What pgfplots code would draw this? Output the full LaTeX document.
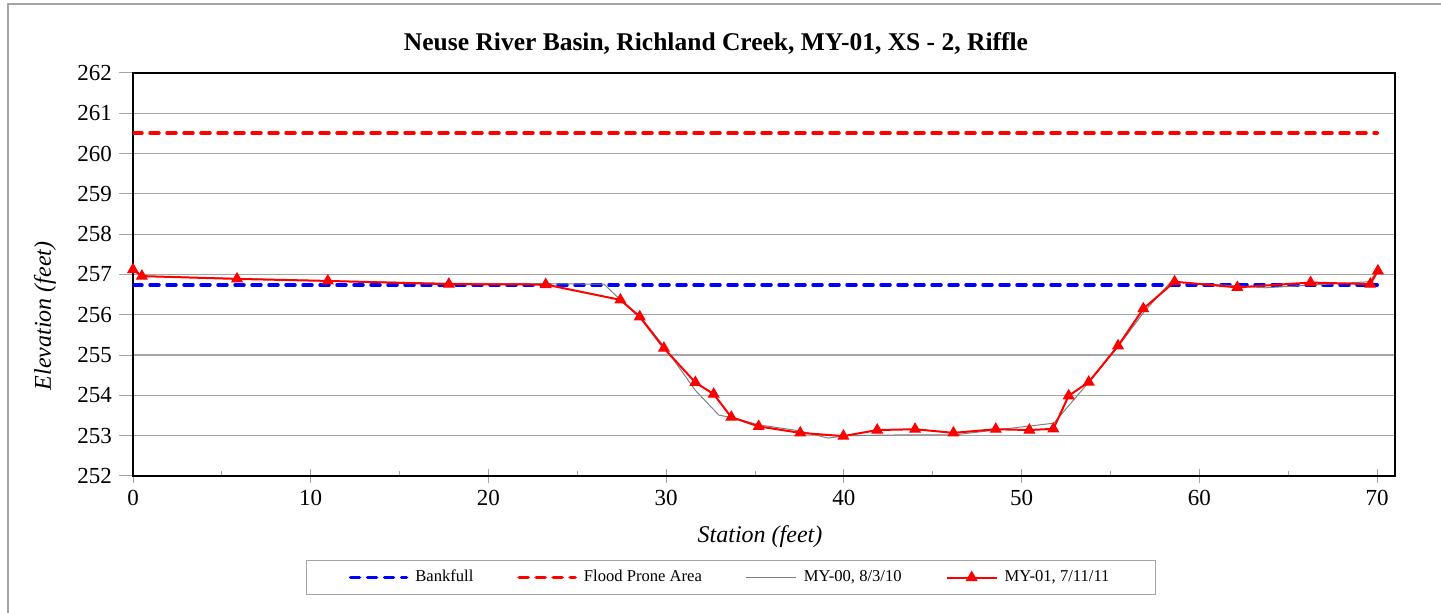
\documentclass[border=0pt]{standalone}
\usepackage{fontspec}
\setmainfont{Liberation Serif}
\usepackage{pgfplots}
\pgfplotsset{compat=1.18}
\definecolor{gridgray}{RGB}{165,165,165}
\definecolor{bankblue}{RGB}{0,0,255}
\definecolor{floodred}{RGB}{255,0,0}
\pgfplotsset{
  legdash/.style={legend image code/.code={\draw[##1] (0pt,0pt) -- (28pt,0pt);}},
  legline/.style={legend image code/.code={\draw[##1] (0pt,0pt) -- (25pt,0pt);}},
  legmark/.style={legend image code/.code={\draw[##1] (0pt,0pt) -- (25pt,0pt);
    \draw[##1] plot coordinates {(12.5pt,0pt)};}},
}
\begin{document}
\begin{tikzpicture}
\useasboundingbox (0,0) rectangle (720.5pt,306.5pt);
\draw[gridgray,line width=0.6pt] (4pt,0) -- (4pt,304.5pt) -- (720.5pt,304.5pt);
\node[font=\fontsize{12.75}{15}\selectfont\bfseries] at (358pt,284.5pt) {Neuse River Basin, Richland Creek, MY-01, XS - 2, Riffle};
\node[font=\fontsize{12}{14}\selectfont\itshape, anchor=base] at (380pt,35pt) {Station (feet)};
\node[font=\fontsize{12}{14}\selectfont\itshape, rotate=90] at (22.5pt,148.5pt) {Elevation (feet)};
\begin{axis}[
  at={(66.5pt,68.5pt)}, anchor=south west,
  width=631pt, height=201.5pt, scale only axis,
  xmin=0, xmax=71, ymin=252, ymax=262,
  xtick={0,10,...,70}, ytick={252,253,...,262},
  minor x tick num=1,
  xtick pos=bottom, ytick pos=left,
  x tick style={gridgray, line width=0.5pt},
  y tick style={gridgray, line width=0.5pt},
  xtick align=center, ytick align=outside,
  major tick length=7pt,
  minor tick length=2.5pt,
  every minor tick/.append style={yshift=1.25pt},
  ymajorgrids,
  major grid style={gridgray, line width=0.6pt},
  axis line style={black, line width=1pt},
  /pgf/number format/assume math mode=true,
  /pgf/number format/1000 sep={},
  ticklabel style={font=\fontsize{11.5}{13}\selectfont},
  legend columns=4,
  legend style={at={(0.474,-0.252)}, anchor=center, draw=gridgray, line width=0.6pt,
    font=\fontsize{8.3}{9.5}\selectfont, inner xsep=21pt, inner ysep=3pt,
    /tikz/every even column/.append style={column sep=20pt},
    /tikz/every odd column/.append style={column sep=1.5pt}},
  legend cell align=left,
]
\addplot[bankblue, line width=1.75pt, line cap=round, dash pattern=on 4.5pt off 4pt, legdash]
  coordinates {(0,256.74) (70,256.74)};
\addlegendentry{Bankfull}
\addplot[floodred, line width=1.75pt, line cap=round, dash pattern=on 4.5pt off 4pt, legdash]
  coordinates {(0,260.51) (70,260.51)};
\addlegendentry{Flood Prone Area}
\addplot[gray, line width=0.5pt, legline]
  coordinates {
(0,257.1) (0.5,256.96) (6,256.9) (11,256.84) (18,256.78) (23.3,256.77)
(26.5,256.76) (27.4,256.38) (28.5,255.98) (29.9,255.2) (31.65,254.12)
(32.96,253.51) (33.7,253.45) (35.2,253.27) (37.5,253.12) (39.1,252.94)
(40.1,253.0) (43.3,253.02) (46.2,253.02) (51.8,253.31) (53.8,254.34)
(55.4,255.2) (56.9,256.08) (58.4,256.82) (63.7,256.67) (69.55,256.82)
(70.04,257.1)};
\addlegendentry{MY-00, 8/3/10}
\addplot[floodred, line width=1pt, mark=triangle*, mark size=3pt,
  mark options={solid, fill=floodred, line width=0.5pt}, legmark]
  coordinates {
(0,257.12) (0.5,256.96) (5.85,256.89) (10.96,256.84) (17.77,256.76)
(23.22,256.75) (27.42,256.37) (28.51,255.95) (29.87,255.17) (31.64,254.32)
(32.67,254.03) (33.66,253.46) (35.20,253.23) (37.54,253.07) (39.97,252.99)
(41.87,253.14) (44.0,253.16) (46.16,253.07) (48.54,253.16) (50.43,253.14)
(51.78,253.17) (52.64,253.99) (53.77,254.33) (55.42,255.23) (56.84,256.15)
(58.60,256.82) (62.13,256.68) (66.25,256.80) (69.61,256.76) (70.04,257.09)};
\addlegendentry{MY-01, 7/11/11}
\end{axis}
\end{tikzpicture}
\end{document}
